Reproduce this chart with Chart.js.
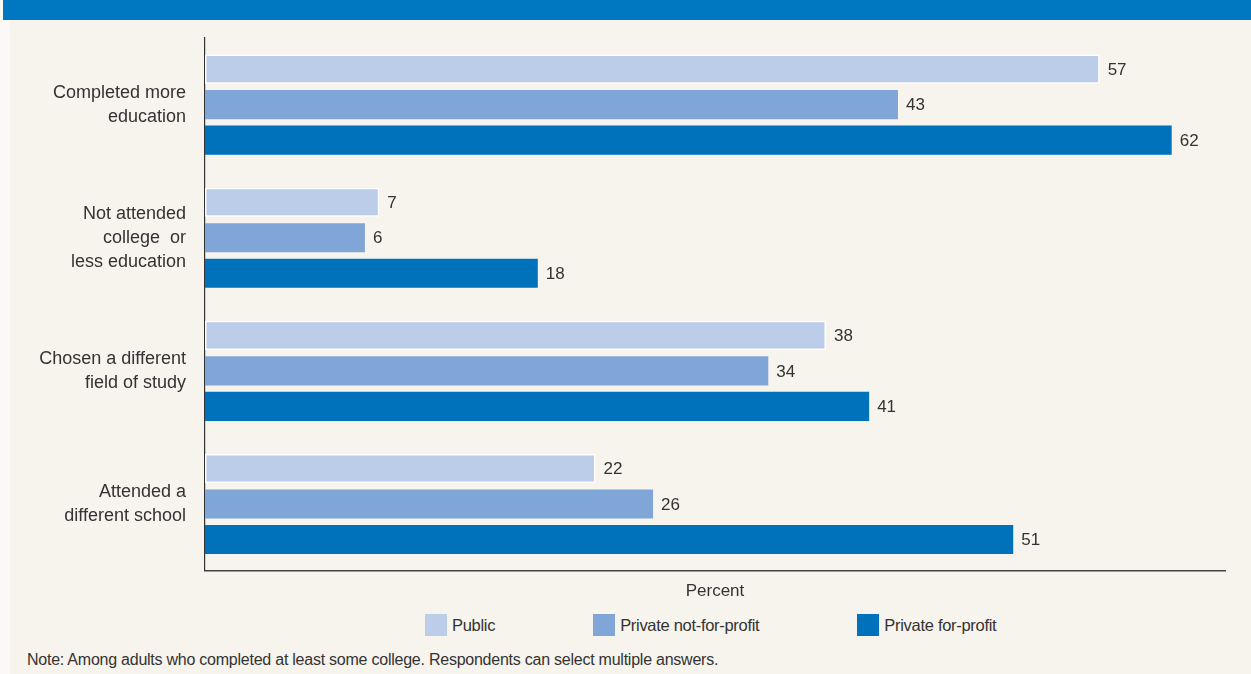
<!DOCTYPE html>
<html>
<head>
<meta charset="utf-8">
<script src="https://cdn.jsdelivr.net/npm/chart.js@4/dist/chart.umd.min.js"></script>
<style>
    body { margin: 0; width: 1251px; height: 674px; background: #faf9f5; position: relative; overflow: hidden;
           font-family: "Liberation Sans", Arial, sans-serif; color: #333; }
    .banner { position: absolute; left: 3px; top: 0; width: 1248px; height: 20px; background: #0078c1; }
    .panel { position: absolute; left: 10px; top: 20px; width: 1241px; height: 654px; background: #f7f4ed; }
    .chart-box { position: absolute; left: 0; top: 20px; width: 1251px; height: 590px; }
    .legend { position: absolute; left: 425px; top: 614px; display: flex; gap: 98px; font-size: 16.5px; letter-spacing: -0.3px; }
    .legend-item { display: flex; align-items: center; }
    .legend-swatch { width: 22px; height: 22px; margin-right: 5px; }
    .note { position: absolute; left: 27px; top: 651px; font-size: 16px; letter-spacing: -0.24px; }
</style>
</head>
<body>
<div class="banner"></div>
<div class="panel"></div>
<div class="chart-box"><canvas id="chart"></canvas></div>
<div class="legend" id="legend"></div>
<div class="note">Note: Among adults who completed at least some college. Respondents can select multiple answers.</div>
<script>
const categories = [
    ['Completed more', 'education'],
    ['Not attended', 'college  or', 'less education'],
    ['Chosen a different', 'field of study'],
    ['Attended a', 'different school']
];
const seriesNames = ['Public', 'Private not-for-profit', 'Private for-profit'];
const publicValues = [57, 7, 38, 22];
const notForProfitValues = [43, 6, 34, 26];
const forProfitValues = [62, 18, 41, 51];
const seriesColors = ['#bccde9', '#7fa6d7', '#0071bb'];

// the original axis starts a little left of zero, bars run from the axis line
const axisMin = -5.1;
const axisMax = 65.7;
const fontFamily = '"Liberation Sans", Arial, sans-serif';

const valueLabels = {
    id: 'valueLabels',
    afterDatasetsDraw(chart) {
        const ctx = chart.ctx;
        ctx.save();
        ctx.font = '17px ' + fontFamily;
        ctx.fillStyle = '#333';
        ctx.textAlign = 'left';
        ctx.textBaseline = 'middle';
        chart.data.datasets.forEach((ds, i) => {
            chart.getDatasetMeta(i).data.forEach((bar, j) => {
                ctx.fillText(ds.data[j], bar.x + 8, bar.y + 1);
            });
        });
        ctx.restore();
    }
};

const allValues = [publicValues, notForProfitValues, forProfitValues];

new Chart(document.getElementById('chart'), {
    type: 'bar',
    data: {
        labels: categories,
        datasets: seriesNames.map((name, i) => ({
            label: name,
            data: allValues[i],
            base: axisMin,
            backgroundColor: seriesColors[i],
            borderColor: '#ffffff',
            borderWidth: i === 0 ? 1.5 : 0,
            borderSkipped: false,
            categoryPercentage: 0.8,
            barPercentage: 0.82
        }))
    },
    options: {
        indexAxis: 'y',
        responsive: true,
        maintainAspectRatio: false,
        animation: false,
        layout: { padding: { top: 18, right: 26, left: 0, bottom: 4 } },
        plugins: {
            legend: { display: false },
            tooltip: { enabled: false }
        },
        scales: {
            x: {
                min: axisMin,
                max: axisMax,
                grid: { display: false, drawTicks: false },
                border: { display: true, color: '#444', width: 1.5 },
                ticks: { display: false },
                title: {
                    display: true,
                    text: 'Percent',
                    color: '#333',
                    font: { family: fontFamily, size: 17 },
                    padding: { top: 11, bottom: 4 }
                }
            },
            y: {
                grid: { display: false, drawTicks: false },
                border: { display: true, color: '#333', width: 1.2 },
                ticks: {
                    color: '#333',
                    padding: 19,
                    font: { family: fontFamily, size: 18, lineHeight: 1.33 }
                },
                afterFit(scale) {
                    scale.width = 205;
                    scale.paddingTop = 0;
                    scale.paddingBottom = 0;
                }
            }
        }
    },
    plugins: [valueLabels]
});

// legend
const legendEl = document.getElementById('legend');
legendEl.innerHTML = seriesNames.map((name, i) => `
    <div class="legend-item">
        <span class="legend-swatch" style="background:${seriesColors[i]}"></span>
        <span>${name}</span>
    </div>
`).join('');
</script>
</body>
</html>
